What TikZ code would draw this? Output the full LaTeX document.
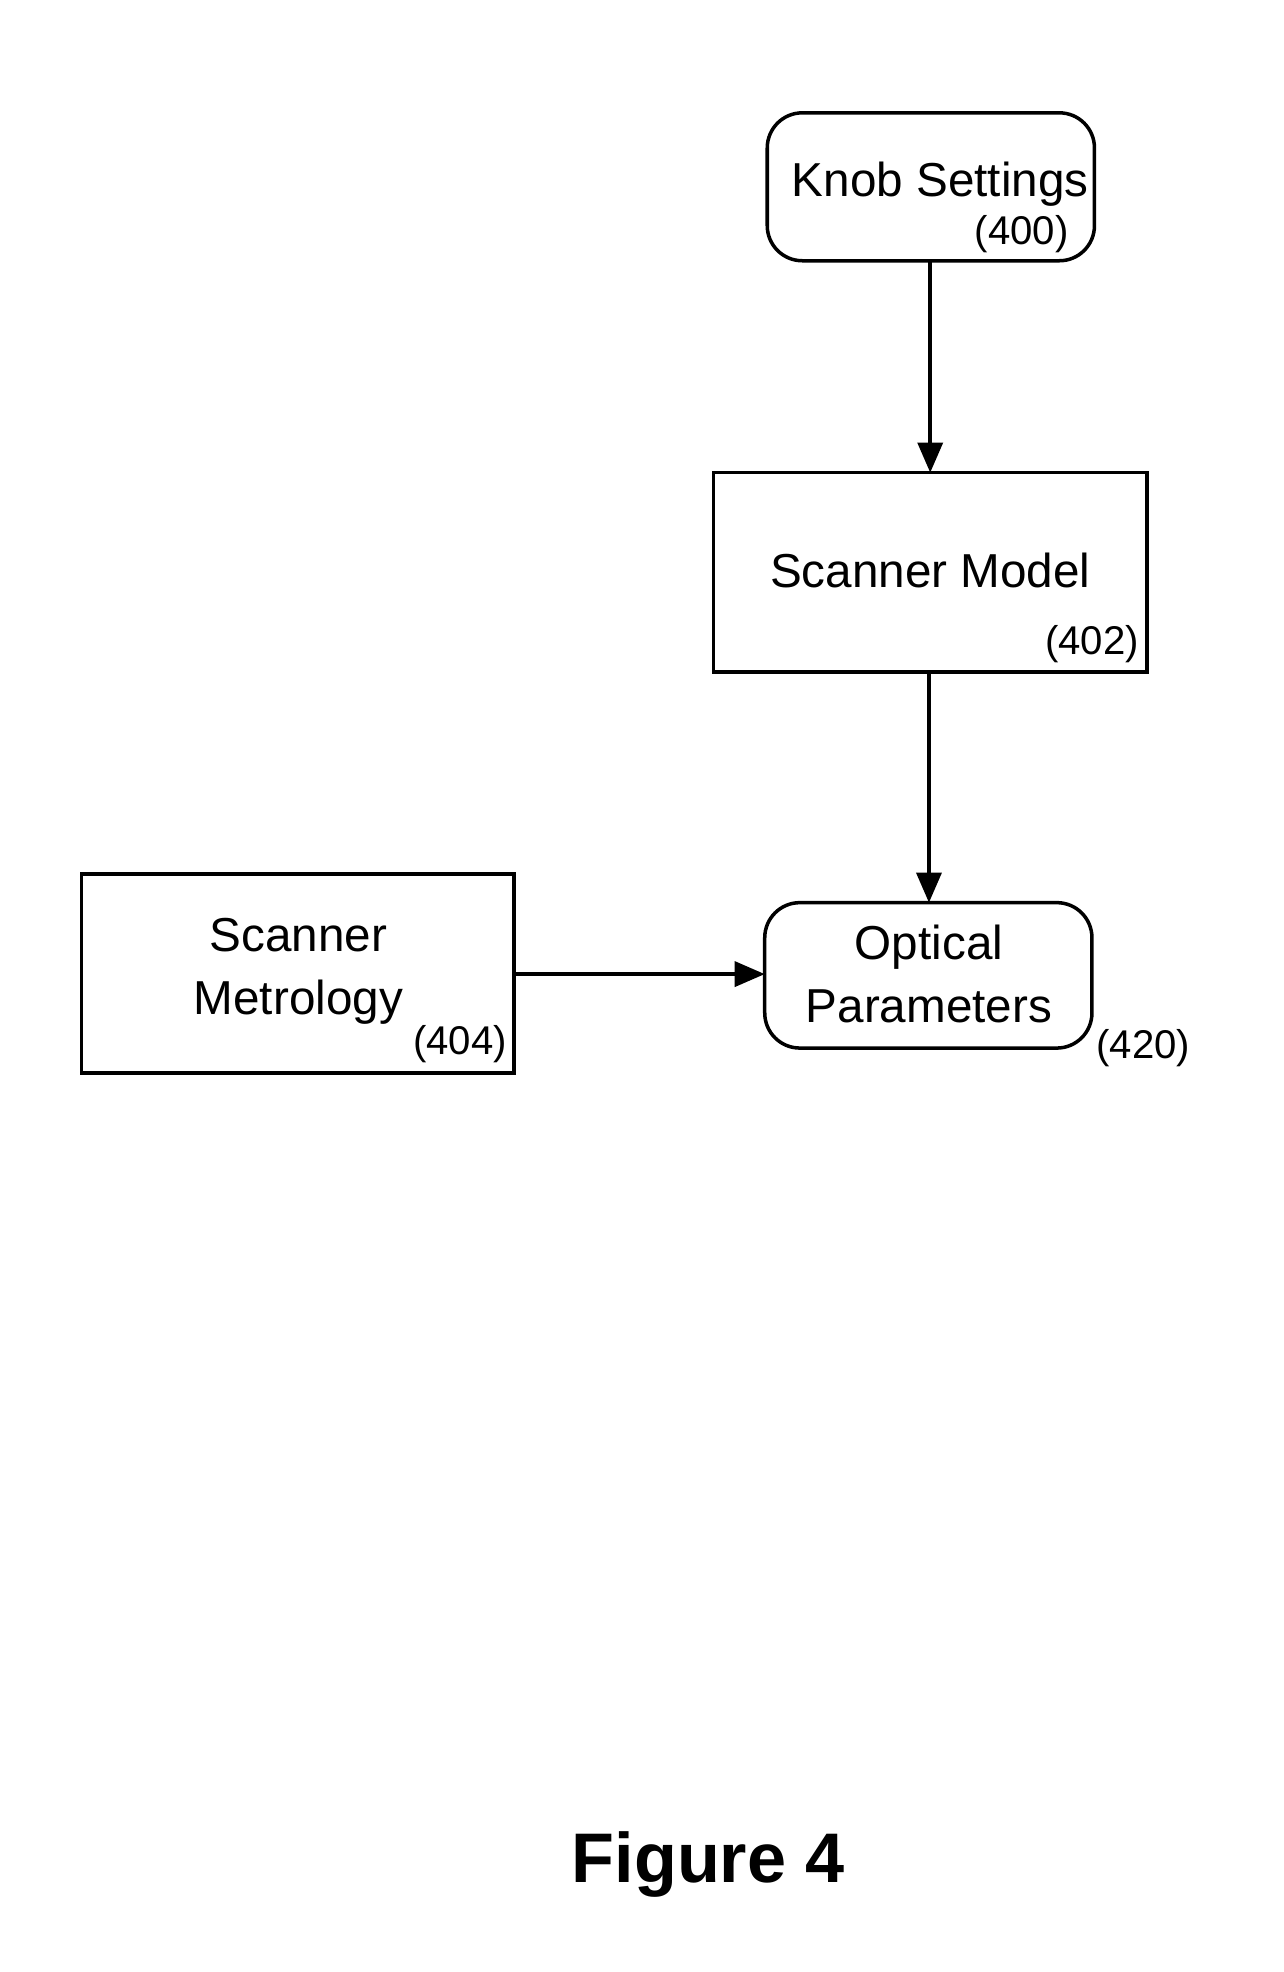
\documentclass[tikz,border=0pt]{standalone}
\usepackage{fontspec}
\setmainfont{Liberation Sans}
\usetikzlibrary{arrows.meta}
\begin{document}
\begin{tikzpicture}[x=0.5pt,y=-0.5pt,
  box/.style={draw,line width=1.4pt},
  rbox/.style={draw,line width=1.4pt,rounded corners=14pt},
  txt/.style={font=\fontsize{19}{23}\selectfont,align=center,inner sep=0},
  num/.style={font=\fontsize{16}{19}\selectfont,inner sep=0},
  arr/.style={-{Triangle[length=12pt,width=10pt]},line width=1.4pt}]
\useasboundingbox (0,0) rectangle (1024,1573);
\draw[rbox] (612,90) rectangle (873,208);
\node[txt] (kt) at (750,147) {Knob Settings};
\node[num] (kn) at (815,187) {(400)};
\draw[box] (569,377) rectangle (915,536);
\node[txt] (st) at (742,455) {Scanner Model};
\node[num] (sn) at (871,514) {(402)};
\draw[rbox] (610,720) rectangle (871,836);
\node[txt] (ot) at (741,777) {Optical\\[2pt]Parameters};
\node[num] (on) at (912,836) {(420)};
\draw[box] (65,697) rectangle (410,856);
\node[txt] (mt) at (238,775) {Scanner\\[2pt]Metrology};
\node[num] (mn) at (367,833) {(404)};
\coordinate (k) at (742,208); \coordinate (s1) at (742,377);
\coordinate (s2) at (741,536); \coordinate (o1) at (741,720);
\coordinate (m) at (410,777); \coordinate (o2) at (610,777);
\draw[arr] (k) -- (s1);
\draw[arr] (s2) -- (o1);
\draw[arr] (m) -- (o2);
\node[font=\fontsize{28}{32}\selectfont\bfseries] (fig) at (565,1487) {Figure 4};
\end{tikzpicture}
\end{document}
